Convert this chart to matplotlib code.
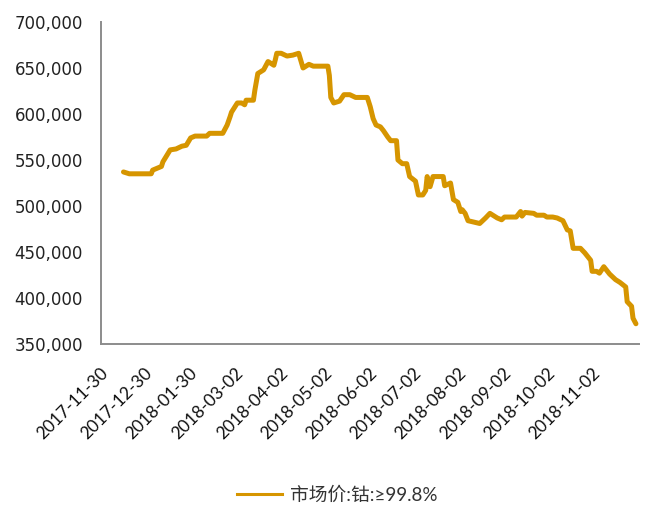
import matplotlib
matplotlib.use("Agg")
import matplotlib.pyplot as plt
import matplotlib.dates as mdates
from matplotlib.lines import Line2D
import pandas as pd

dates = [
    "2017-12-12", "2017-12-16", "2017-12-31", "2018-01-01", "2018-01-07", "2018-01-08", "2018-01-13", "2018-01-17", "2018-01-21", "2018-01-24",
    "2018-01-27", "2018-01-30", "2018-02-07", "2018-02-09", "2018-02-18", "2018-02-21", "2018-02-23", "2018-02-24", "2018-02-28", "2018-03-03",
    "2018-03-05", "2018-03-06", "2018-03-11", "2018-03-12", "2018-03-14", "2018-03-18", "2018-03-21", "2018-03-23", "2018-03-25", "2018-03-26",
    "2018-03-27", "2018-03-30", "2018-04-03", "2018-04-07", "2018-04-11", "2018-04-14", "2018-04-18", "2018-04-21", "2018-05-01", "2018-05-02",
    "2018-05-03", "2018-05-05", "2018-05-09", "2018-05-12", "2018-05-16", "2018-05-20", "2018-05-28", "2018-05-30", "2018-06-01", "2018-06-03",
    "2018-06-06", "2018-06-08", "2018-06-11", "2018-06-13", "2018-06-17", "2018-06-18", "2018-06-21", "2018-06-24", "2018-06-26", "2018-06-30",
    "2018-07-02", "2018-07-05", "2018-07-07", "2018-07-08", "2018-07-10", "2018-07-12", "2018-07-19", "2018-07-20", "2018-07-24", "2018-07-26",
    "2018-07-29", "2018-07-31", "2018-08-01", "2018-08-03", "2018-08-05", "2018-08-13", "2018-08-17", "2018-08-20", "2018-08-25", "2018-08-28",
    "2018-08-30", "2018-09-07", "2018-09-10", "2018-09-11", "2018-09-13", "2018-09-19", "2018-09-21", "2018-09-26", "2018-09-28", "2018-10-02",
    "2018-10-05", "2018-10-09", "2018-10-12", "2018-10-14", "2018-10-16", "2018-10-21", "2018-10-24", "2018-10-28", "2018-10-29", "2018-11-01",
    "2018-11-03", "2018-11-06", "2018-11-10", "2018-11-14", "2018-11-17", "2018-11-21", "2018-11-22", "2018-11-25", "2018-11-26", "2018-11-28",
]

prices = [
    537000, 535000, 535000, 539000, 543000, 548000, 561000, 562000, 565000, 566000,
    574000, 576000, 576000, 579000, 579000, 588000, 597000, 602000, 612000, 612000,
    610000, 615000, 615000, 626000, 644000, 648000, 657000, 655000, 653000, 659000,
    666000, 666000, 663000, 664000, 666000, 650000, 654000, 652000, 652000, 642000,
    618000, 612000, 614000, 621000, 621000, 618000, 618000, 608000, 595000, 588000,
    586000, 582000, 575000, 571000, 571000, 550000, 546000, 546000, 532000, 527000,
    512000, 512000, 517000, 532000, 521000, 532000, 532000, 522000, 525000, 507000,
    504000, 494000, 496000, 492000, 484000, 481000, 487000, 492000, 487000, 485000,
    488000, 488000, 494000, 489000, 493000, 492000, 490000, 490000, 488000, 488000,
    487000, 484000, 474000, 473000, 454000, 454000, 449000, 441000, 429000, 429000,
    427000, 434000, 426000, 420000, 417000, 412000, 396000, 391000, 378000, 372000,
]

tick_dates = ["2017-11-30", "2017-12-30", "2018-01-30", "2018-03-02", "2018-04-02", "2018-05-02",
              "2018-06-02", "2018-07-02", "2018-08-02", "2018-09-02", "2018-10-02", "2018-11-02"]
y_ticks = [350000, 400000, 450000, 500000, 550000, 600000, 650000, 700000]
series_name = "市场价:钴:≥99.8%"

color = "#D69500"
spine_color = "#8C8C8C"

fig = plt.figure(figsize=(6.49, 5.09), dpi=100)
ax = fig.add_axes([101 / 649, 1 - 344 / 509, (639 - 101) / 649, (344 - 22) / 509])

x = pd.to_datetime(dates)
ax.plot(x, prices, color=color, lw=3.6, solid_joinstyle="round", solid_capstyle="round")

ax.set_ylim(350000, 700000)
ax.set_yticks(y_ticks)
ax.set_yticklabels([f"{v:,}" for v in y_ticks], family="DejaVu Sans", fontsize=12, color="#222222")

start = pd.Timestamp("2017-11-30")
ax.set_xlim(mdates.date2num(start - pd.Timedelta(days=3.4)), mdates.date2num(start + pd.Timedelta(days=365.1)))
tks = pd.to_datetime(tick_dates)
ax.set_xticks(mdates.date2num(tks))
ax.set_xticklabels(tick_dates, rotation=45, ha="right", va="center", rotation_mode="anchor",
                   family="Lato", fontsize=12.5, color="#111111")

ax.tick_params(axis="y", length=0, pad=13)
ax.tick_params(axis="x", length=0, pad=19)

for s in ["top", "right"]:
    ax.spines[s].set_visible(False)
for s in ["left", "bottom"]:
    ax.spines[s].set_color(spine_color)
    ax.spines[s].set_linewidth(1.4)

handle = Line2D([0], [0], color=color, lw=2.2)
fig.legend([handle], [series_name], loc="center", bbox_to_anchor=(0.52, 0.028), frameon=False,
           handlelength=2.4, handletextpad=0.45,
           prop={"family": ["Lato", "DejaVu Sans", "Noto Sans CJK SC"], "size": 13.5}, labelcolor="#333333")

fig.savefig("out.png", dpi=100)
